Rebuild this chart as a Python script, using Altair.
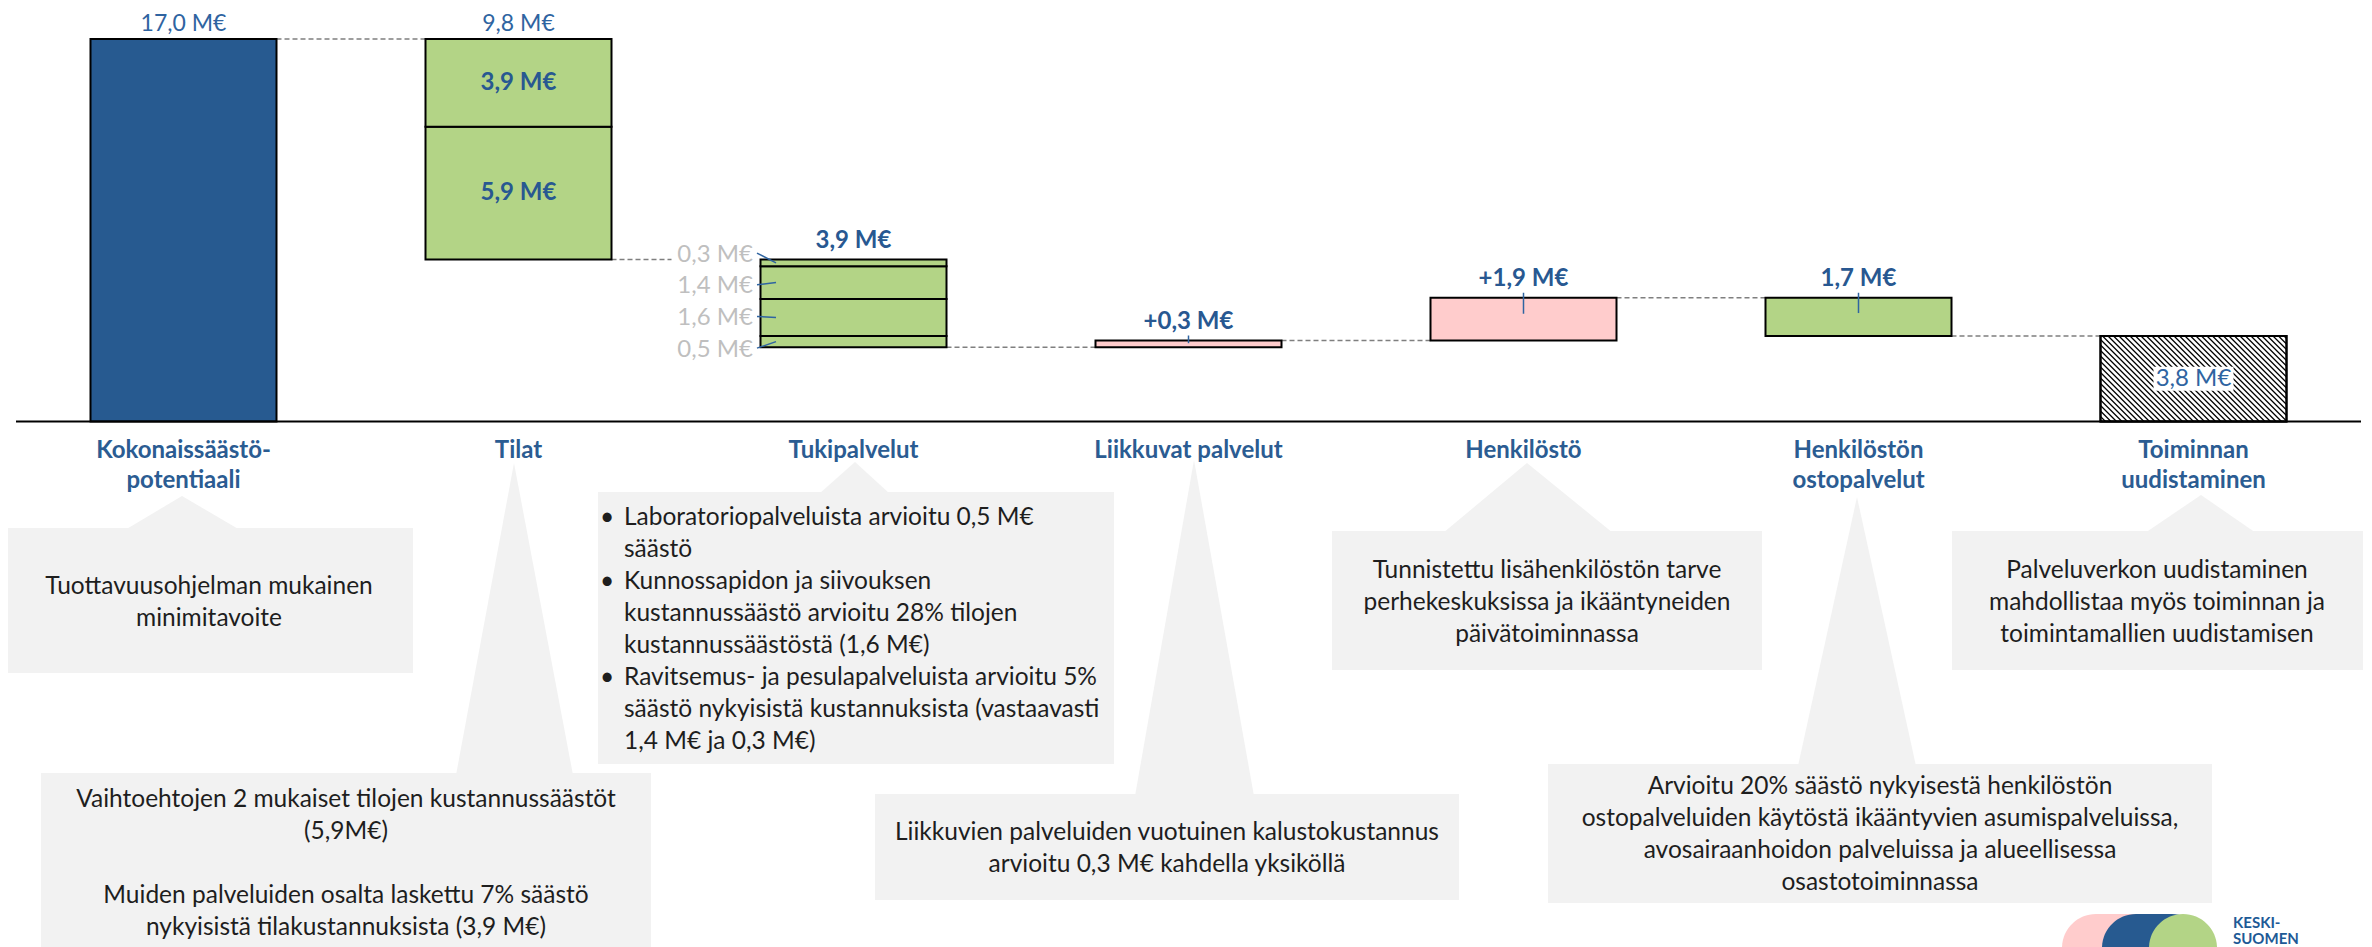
import altair as alt
import numpy as np
import pandas as pd

# ---------------------------------------------------------------- data
categories = ["Kokonaissäästö-\npotentiaali", "Tilat", "Tukipalvelut", "Liikkuvat palvelut",
              "Henkilöstö", "Henkilöstön\nostopalvelut", "Toiminnan\nuudistaminen"]
total_potential = 17.0
tilat_parts = [5.9, 3.9]                 # bottom -> top
tuki_parts = [0.5, 1.65, 1.45, 0.3]      # bottom -> top
tuki_part_labels = ["0,5 M€", "1,6 M€", "1,4 M€", "0,3 M€"]
liikkuvat_increase = 0.3
henkilosto_increase = 1.9
osto_saving = 1.7
uudistaminen = 3.8

callout_kokonais = ["Tuottavuusohjelman mukainen", "minimitavoite"]
callout_tilat = ["Vaihtoehtojen 2 mukaiset tilojen kustannussäästöt", "(5,9M€)", "",
                 "Muiden palveluiden osalta laskettu 7% säästö",
                 "nykyisistä tilakustannuksista (3,9 M€)"]
callout_tuki = ["Laboratoriopalveluista arvioitu 0,5 M€", "säästö",
                "Kunnossapidon ja siivouksen", "kustannussäästö arvioitu 28% tilojen",
                "kustannussäästöstä (1,6 M€)",
                "Ravitsemus- ja pesulapalveluista arvioitu 5%",
                "säästö nykyisistä kustannuksista (vastaavasti", "1,4 M€ ja 0,3 M€)"]
callout_tuki_bullets = [0, 2, 5]
callout_liikkuvat = ["Liikkuvien palveluiden vuotuinen kalustokustannus",
                     "arvioitu 0,3 M€ kahdella yksiköllä"]
callout_henkilosto = ["Tunnistettu lisähenkilöstön tarve", "perhekeskuksissa ja ikääntyneiden",
                      "päivätoiminnassa"]
callout_osto = ["Arvioitu 20% säästö nykyisestä henkilöstön",
                "ostopalveluiden käytöstä ikääntyvien asumispalveluissa,",
                "avosairaanhoidon palveluissa ja alueellisessa", "osastotoiminnassa"]
callout_uudistaminen = ["Palveluverkon uudistaminen", "mahdollistaa myös toiminnan ja",
                        "toimintamallien uudistamisen"]
logo_words = ["KESKI-", "SUOMEN"]

# ---------------------------------------------------------------- layout / style
W, H = 2356, 939
OFF = 8                       # page margin: page px -> plot px
PX_X = 335.0                  # px per category step
HALF = 93.0 / PX_X            # half bar width in index units
PX_Y = 22.5                   # px per M€
ZERO_Y = 413.5                # plot-y of the zero line
Y_MAX = ZERO_Y / PX_Y
Y_MIN = -(H - ZERO_Y) / PX_Y
X_SCALE = alt.Scale(domain=[-0.5, 6.5], range=[8, 2353], nice=False, zero=False)
Y_SCALE = alt.Scale(domain=[Y_MIN, Y_MAX], nice=False, zero=False)

FONT = "Lato"
BLUE = "#275A90"
GREEN = "#B3D486"
PINK = "#FFCCCC"
CAT_C = "#2B5C92"
VAL_C = "#2F64A1"
BOLD_C = "#285891"
GRAY_T = "#BFBFBF"
BOX_F = "#F2F2F2"
TXT_C = "#1E1E1E"
CT_SIZE = 24.5


def XQ(f):
    return alt.X(f, type="quantitative", scale=X_SCALE, axis=None)


def YQ(f):
    return alt.Y(f, type="quantitative", scale=Y_SCALE, axis=None)


def XP(f):
    return alt.X(f, type="quantitative", scale=None, axis=None)


def YP(f):
    return alt.Y(f, type="quantitative", scale=None, axis=None, stack=None)


def fmt(v, sign=""):
    return sign + f"{v:.1f}".replace(".", ",") + " M€"


# ---------------------------------------------------------------- waterfall
lvl0 = total_potential
lvl1 = lvl0 - sum(tilat_parts)
lvl2 = lvl1 - sum(tuki_parts)
lvl3 = lvl2 + liikkuvat_increase
lvl4 = lvl3 + henkilosto_increase
lvl5 = lvl4 - osto_saving

seg_rows = [dict(idx=0, lo=0.0, hi=lvl0, kind="total")]
run = lvl1
for p in tilat_parts:
    seg_rows.append(dict(idx=1, lo=run, hi=run + p, kind="saving"))
    run += p
run = lvl2
for p in tuki_parts:
    seg_rows.append(dict(idx=2, lo=run, hi=run + p, kind="saving"))
    run += p
seg_rows += [dict(idx=3, lo=lvl2, hi=lvl3, kind="increase"),
             dict(idx=4, lo=lvl3, hi=lvl4, kind="increase"),
             dict(idx=5, lo=lvl5, hi=lvl4, kind="saving"),
             dict(idx=6, lo=0.0, hi=uudistaminen, kind="result")]
segs = pd.DataFrame(seg_rows)
segs["x0"] = segs.idx - HALF
segs["x1"] = segs.idx + HALF

levels = [lvl0, lvl1, lvl2, lvl3, lvl4, lvl5]
conn = pd.DataFrame({"idx": list(range(6)), "y": levels})
conn["xa"] = conn.idx + HALF
conn["xb"] = conn.idx + 1 - HALF
conn.loc[1, "xb"] -= 89 / PX_X          # stop before the part labels

above_norm = pd.DataFrame([dict(idx=0, y=lvl0, t=fmt(total_potential)),
                           dict(idx=1, y=lvl0, t=fmt(sum(tilat_parts)))])
above_bold = pd.DataFrame([dict(idx=2, y=lvl1, t=fmt(sum(tuki_parts))),
                           dict(idx=3, y=lvl3, t=fmt(liikkuvat_increase, "+")),
                           dict(idx=4, y=lvl4, t=fmt(henkilosto_increase, "+")),
                           dict(idx=5, y=lvl4, t=fmt(osto_saving))])
in_rows = []
run = lvl1
for p in tilat_parts:
    in_rows.append(dict(idx=1, y=run + p / 2, t=fmt(p)))
    run += p
in_bold = pd.DataFrame(in_rows)
in_norm = pd.DataFrame([dict(idx=6, y=uudistaminen / 2, t=fmt(uudistaminen))])
in_bg = pd.DataFrame([dict(xa=6 - 40 / PX_X, xb=6 + 40 / PX_X,
                           ya=uudistaminen / 2 - 12 / PX_Y, yb=uudistaminen / 2 + 12 / PX_Y)])

tick_rows = []
for idx, top, low in [(3, lvl3, lvl2), (4, lvl4, lvl3), (5, lvl4, lvl5)]:
    tick_rows.append(dict(idx=idx, ya=top + 5 / PX_Y, yb=top - min(16 / PX_Y, 0.4 * (top - low))))
ticks = pd.DataFrame(tick_rows)

part_rows = []
run = lvl2
for j, (p, lab) in enumerate(zip(tuki_parts, tuki_part_labels)):
    ly = lvl2 + (-2.4 + 31.7 * j) / PX_Y
    part_rows.append(dict(t=lab, lx=2 - HALF - 7.5 / PX_X, ly=ly,
                          ax=2 - HALF - 3.5 / PX_X, ay=ly + 1.5 / PX_Y,
                          bx=2 - HALF + 15.5 / PX_X, by=run + p / 2))
    run += p
parts = pd.DataFrame(part_rows)

# hatch of the last bar (style only)
hx0 = 6 - HALF
wpx = 2 * HALF * PX_X
hpx = uudistaminen * PX_Y
hatch_rows = []
for c in np.arange(-wpx + 2.5, hpx, 5.5):
    u1, u2 = max(0.0, -c), min(wpx, hpx - c)
    if u2 > u1:
        hatch_rows.append(dict(xa=hx0 + u1 / PX_X, ya=uudistaminen - (u1 + c) / PX_Y,
                               xb=hx0 + u2 / PX_X, yb=uudistaminen - (u2 + c) / PX_Y))
hatch = pd.DataFrame(hatch_rows)

base = pd.DataFrame([dict(xa=-0.5, xb=6.5, y=0.0)])

cat_rows = []
for i, cat in enumerate(categories):
    for k, line in enumerate(cat.split("\n")):
        cat_rows.append(dict(idx=i, py=443 + 30 * k, t=line))
cats = pd.DataFrame(cat_rows)

# ---------------------------------------------------------------- callouts (page px)
boxes_px = [(6, 528, 413, 673), (41, 773, 651, 990), (598, 492, 1114, 764),
            (875, 794, 1459, 900), (1332, 531, 1762, 670), (1548, 764, 2212, 903),
            (1952, 531, 2363, 670)]
tris_px = [(182, 496, 125, 240, 530), (514, 463, 456, 573, 775), (855, 462, 819, 890, 494),
           (1194, 460, 1135, 1254, 796), (1527, 463, 1443, 1613, 533),
           (1857, 497, 1798, 1916, 766), (2201, 495, 2145, 2256, 533)]
boxes = pd.DataFrame([dict(xa=a - OFF, ya=b - OFF, xb=c - OFF, yb=d - OFF) for a, b, c, d in boxes_px])
tri_rows = []
for n, (ax, ay, b1, b2, by) in enumerate(tris_px):
    for px, py in [(b1, by), (ax, ay), (b2, by)]:
        tri_rows.append(dict(id=n, px=px - OFF, py=py - OFF, by=by - OFF))
tris = pd.DataFrame(tri_rows)

center_blocks = [(209, 587, callout_kokonais), (346, 800, callout_tilat),
                 (1167, 833, callout_liikkuvat), (1547, 571, callout_henkilosto),
                 (1880, 787, callout_osto), (2157, 571, callout_uudistaminen)]
ct_rows = []
for cx, y0, lines in center_blocks:
    for k, line in enumerate(lines):
        if line:
            ct_rows.append(dict(px=cx - OFF, py=y0 + 32 * k - OFF, t=line))
ctext = pd.DataFrame(ct_rows)
lt_rows, bl_rows = [], []
for k, line in enumerate(callout_tuki):
    lt_rows.append(dict(px=624 - OFF, py=518 + 32 * k - OFF, t=line))
    if k in callout_tuki_bullets:
        bl_rows.append(dict(px=607 - OFF, py=518 + 32 * k - OFF, t="•"))
ltext = pd.DataFrame(lt_rows)
bullets = pd.DataFrame(bl_rows)

logo = pd.DataFrame([dict(xa=2062 - OFF, xb=2166 - OFF, ya=914 - OFF, yb=990 - OFF, k="a"),
                     dict(xa=2102 - OFF, xb=2206 - OFF, ya=914 - OFF, yb=990 - OFF, k="b"),
                     dict(xa=2149 - OFF, xb=2217 - OFF, ya=914 - OFF, yb=990 - OFF, k="c")])
logo_txt = pd.DataFrame([dict(px=2233 - OFF, py=928 - OFF, t=logo_words[0]),
                         dict(px=2233 - OFF, py=944 - OFF, t=logo_words[1])])

# ---------------------------------------------------------------- layers
tri_l = alt.Chart(tris).mark_area(color=BOX_F).encode(
    x=XP("px"), y=YP("py"), y2="by:Q", detail="id:N")
box_l = alt.Chart(boxes).mark_rect(color=BOX_F).encode(
    x=XP("xa"), x2="xb:Q", y=YP("ya"), y2="yb:Q")
ctext_l = alt.Chart(ctext).mark_text(font=FONT, fontSize=CT_SIZE, color=TXT_C, align="center",
                                     baseline="middle").encode(x=XP("px"), y=YP("py"), text="t:N")
ltext_l = alt.Chart(ltext).mark_text(font=FONT, fontSize=CT_SIZE, color=TXT_C, align="left",
                                     baseline="middle").encode(x=XP("px"), y=YP("py"), text="t:N")
bullet_l = alt.Chart(bullets).mark_text(font=FONT, fontSize=CT_SIZE, color=TXT_C, align="center",
                                        baseline="middle").encode(x=XP("px"), y=YP("py"), text="t:N")

conn_l = alt.Chart(conn).mark_rule(color="#7F7F7F", strokeWidth=1.5, strokeDash=[5, 3]).encode(
    x=XQ("xa"), x2="xb:Q", y=YQ("y"))
bars_l = alt.Chart(segs).mark_rect(stroke="black", strokeWidth=2).encode(
    x=XQ("x0"), x2="x1:Q", y=YQ("lo"), y2="hi:Q",
    fill=alt.Fill("kind:N", legend=None,
                  scale=alt.Scale(domain=["total", "saving", "increase", "result"],
                                  range=[BLUE, GREEN, PINK, "#FFFFFF"])))
hatch_l = alt.Chart(hatch).mark_rule(color="black", strokeWidth=1.2).encode(
    x=XQ("xa"), x2="xb:Q", y=YQ("ya"), y2="yb:Q")
hatch_border = alt.Chart(segs[segs.kind == "result"]).mark_rect(
    fill=None, stroke="black", strokeWidth=2).encode(x=XQ("x0"), x2="x1:Q", y=YQ("lo"), y2="hi:Q")
bg_l = alt.Chart(in_bg).mark_rect(color="white").encode(x=XQ("xa"), x2="xb:Q", y=YQ("ya"), y2="yb:Q")
base_l = alt.Chart(base).mark_rule(color="black", strokeWidth=2).encode(x=XQ("xa"), x2="xb:Q", y=YQ("y"))

an_l = alt.Chart(above_norm).mark_text(font=FONT, fontSize=23, color=VAL_C, dy=-15,
                                       baseline="middle").encode(x=XQ("idx"), y=YQ("y"), text="t:N")
ab_l = alt.Chart(above_bold).mark_text(font=FONT, fontSize=24, fontWeight="bold", color=BOLD_C,
                                       dy=-19, baseline="middle").encode(x=XQ("idx"), y=YQ("y"), text="t:N")
ib_l = alt.Chart(in_bold).mark_text(font=FONT, fontSize=24, fontWeight="bold", color=BOLD_C,
                                    baseline="middle").encode(x=XQ("idx"), y=YQ("y"), text="t:N")
in_l = alt.Chart(in_norm).mark_text(font=FONT, fontSize=24, color=VAL_C,
                                    baseline="middle").encode(x=XQ("idx"), y=YQ("y"), text="t:N")
tick_l = alt.Chart(ticks).mark_rule(color=VAL_C, strokeWidth=1.5).encode(
    x=XQ("idx"), y=YQ("ya"), y2="yb:Q")
part_l = alt.Chart(parts).mark_text(font=FONT, fontSize=24, color=GRAY_T, align="right",
                                    baseline="middle").encode(x=XQ("lx"), y=YQ("ly"), text="t:N")
lead_l = alt.Chart(parts).mark_rule(color=VAL_C, strokeWidth=1.5).encode(
    x=XQ("ax"), x2="bx:Q", y=YQ("ay"), y2="by:Q")
cat_l = alt.Chart(cats).mark_text(font=FONT, fontSize=24, fontWeight="bold", color=CAT_C,
                                  baseline="middle").encode(x=XQ("idx"), y=YP("py"), text="t:N")

logo_l = alt.Chart(logo).mark_rect(cornerRadius=34).encode(
    x=XP("xa"), x2="xb:Q", y=YP("ya"), y2="yb:Q",
    fill=alt.Fill("k:N", legend=None, scale=alt.Scale(domain=["a", "b", "c"], range=[PINK, BLUE, GREEN])))
logo_t = alt.Chart(logo_txt).mark_text(font=FONT, fontSize=15, fontWeight="bold", color="#1E5A96",
                                       align="left", baseline="alphabetic").encode(
    x=XP("px"), y=YP("py"), text="t:N")

chart = alt.layer(
    tri_l, box_l, ctext_l, ltext_l, bullet_l,
    conn_l, bars_l, hatch_l, hatch_border, bg_l, base_l,
    an_l, ab_l, ib_l, in_l, tick_l, part_l, lead_l, cat_l,
    logo_l, logo_t,
).resolve_scale(fill="independent").properties(
    width=W, height=H, padding=0, autosize=alt.AutoSizeParams(type="none"),
    background="white",
).configure_view(stroke=None)

chart.save("out.html", embed_options={"renderer": "svg", "actions": False})
